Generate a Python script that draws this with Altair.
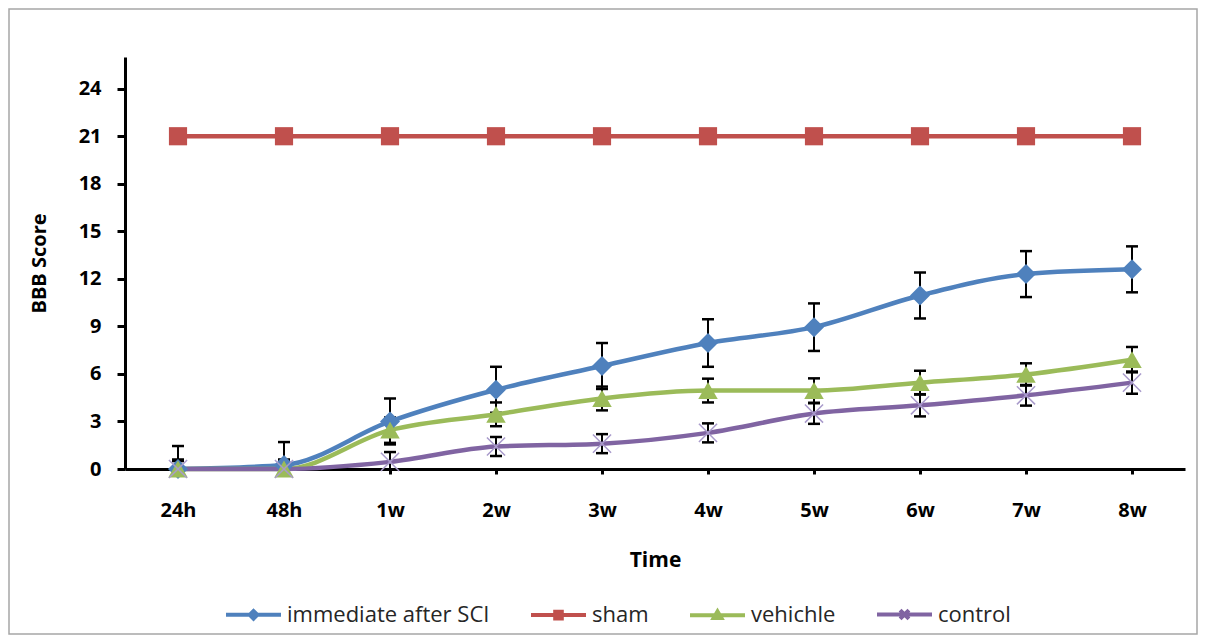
import altair as alt
import pandas as pd

times = ["24h", "48h", "1w", "2w", "3w", "4w", "5w", "6w", "7w", "8w"]
series_names = ["immediate after SCI", "sham", "vehichle", "control"]

immediate = [0, 0.25, 3.0, 5.0, 6.5, 7.95, 8.95, 10.95, 12.3, 12.6]
immediate_err = [1.45, 1.45, 1.45, 1.45, 1.45, 1.5, 1.5, 1.45, 1.45, 1.45]
sham = [21, 21, 21, 21, 21, 21, 21, 21, 21, 21]
sham_err = [0, 0, 0, 0, 0, 0, 0, 0, 0, 0]
vehicle = [0, 0, 2.45, 3.45, 4.45, 4.95, 4.95, 5.45, 5.97, 6.9]
vehicle_err = [0.6, 0.6, 0.8, 0.75, 0.75, 0.75, 0.77, 0.75, 0.7, 0.8]
control = [0, 0, 0.45, 1.42, 1.6, 2.28, 3.5, 4.02, 4.65, 5.45]
control_err = [0.5, 0.5, 0.62, 0.6, 0.6, 0.6, 0.65, 0.7, 0.65, 0.7]

colors = ["#4F81BD", "#C0504D", "#9BBB59", "#8064A2"]
y_ticks = [0, 3, 6, 9, 12, 15, 18, 21, 24]

rows = []
for name, vals, errs in zip(series_names,
                            [immediate, sham, vehicle, control],
                            [immediate_err, sham_err, vehicle_err, control_err]):
    for i, (t, v, e) in enumerate(zip(times, vals, errs)):
        rows.append(dict(series=name, time=t, value=v, err=e, lo=v - e, hi=v + e, order=i))
df = pd.DataFrame(rows)

FONT = "Open Sans"

x_enc = alt.X("time:N", sort=times, scale=alt.Scale(type="point", padding=0.5),
              axis=alt.Axis(title="Time", labelAngle=0, tickSize=5, labelPadding=26,
                            titleFontSize=21, titlePadding=29))
y_scale = alt.Scale(domain=[0, 26], nice=False)
y_enc = alt.Y("value:Q", scale=y_scale,
              axis=alt.Axis(title="BBB Score", values=y_ticks, tickSize=8, labelPadding=16,
                            titleFontSize=20, titlePadding=29))

base = alt.Chart(df)

# outer frame
frame = alt.Chart(pd.DataFrame({"f": [0]})).mark_rect(
    fillOpacity=0, stroke="#A6A6A6", strokeWidth=1.5
).encode(x=alt.value(-116), x2=alt.value(1072), y=alt.value(-48), y2=alt.value(577))

err_df = base.transform_filter("datum.err > 0")
err_rule = err_df.mark_rule(color="black", strokeWidth=2, clip=True).encode(
    x=x_enc, y=alt.Y("lo:Q", scale=y_scale), y2="hi:Q")
cap_hi = err_df.mark_tick(color="black", thickness=2.5, size=12, clip=True, opacity=1).encode(
    x=x_enc, y=alt.Y("hi:Q", scale=y_scale))
cap_lo = err_df.mark_tick(color="black", thickness=2.5, size=12, clip=True, opacity=1).encode(
    x=x_enc, y=alt.Y("lo:Q", scale=y_scale))

line_layers = []
for name, c in zip(series_names, colors):
    line_layers.append(
        base.transform_filter(alt.datum.series == name)
        .mark_line(strokeWidth=4.5, interpolate="monotone", color=c)
        .encode(x=x_enc, y=y_enc, order="order:Q")
    )

marker_specs = [
    ("immediate after SCI", dict(shape="diamond", filled=True, size=400, color=colors[0], opacity=1)),
    ("sham", dict(shape="square", filled=True, size=330, color=colors[1], opacity=1)),
    ("vehichle", dict(shape="triangle-up", filled=True, size=380, color=colors[2], opacity=1)),
    ("control", dict(shape="M-1,-1L1,1M-1,1L1,-1", filled=False, size=330, color="#A99BCB",
                     strokeWidth=1.5, opacity=1)),
]
point_layers = []
for name, spec in marker_specs:
    point_layers.append(
        base.transform_filter(alt.datum.series == name).mark_point(**spec).encode(x=x_enc, y=y_enc)
    )

legend_paths = [
    "M-1,0L1,0M-0.14,0L0,-0.14L0.14,0L0,0.14Z M-0.1,0L0.1,0",
    "M-1,0L1,0M-0.12,-0.12L0.12,-0.12L0.12,0.12L-0.12,0.12Z M-0.1,0L0.1,0",
    "M-1,0L1,0M-0.14,0.1L0,-0.14L0.14,0.1Z M-0.08,0.05L0.08,0.05",
    "M-1,0L1,0M-0.16,-0.16L0.16,0.16M-0.16,0.16L0.16,-0.16",
]
leg = alt.Legend(title=None, orient="none", legendX=99, legendY=528, direction="horizontal",
                 symbolSize=3025, symbolStrokeWidth=4, labelFont=FONT, labelFontSize=22,
                 labelColor="#262626", labelOffset=4, labelLimit=0, columnPadding=33, padding=0)
legend_layer = base.transform_filter("datum.order == 0").transform_calculate(
    value="-10"
).mark_point(filled=False, strokeWidth=4, clip=True, opacity=1).encode(
    x=x_enc, y=y_enc,
    color=alt.Color("series:N", scale=alt.Scale(domain=series_names, range=colors), legend=leg),
    shape=alt.Shape("series:N", scale=alt.Scale(domain=series_names, range=legend_paths), legend=leg),
)

chart = alt.layer(frame, err_rule, cap_hi, cap_lo, *line_layers, *point_layers, legend_layer).properties(
    width=1060, height=412,
    autosize=alt.AutoSizeParams(type="none"),
    padding={"left": 117, "top": 49, "right": 13, "bottom": 166},
    background="white",
).configure_view(stroke=None).configure_axis(
    domainColor="black", domainWidth=3, tickColor="black", tickWidth=3, grid=False,
    labelFont=FONT, labelFontWeight="bold", labelFontSize=20, labelColor="black",
    titleFont=FONT, titleFontWeight="bold", titleColor="black",
)

chart.save("out.html", embed_options={"renderer": "svg", "actions": False})
